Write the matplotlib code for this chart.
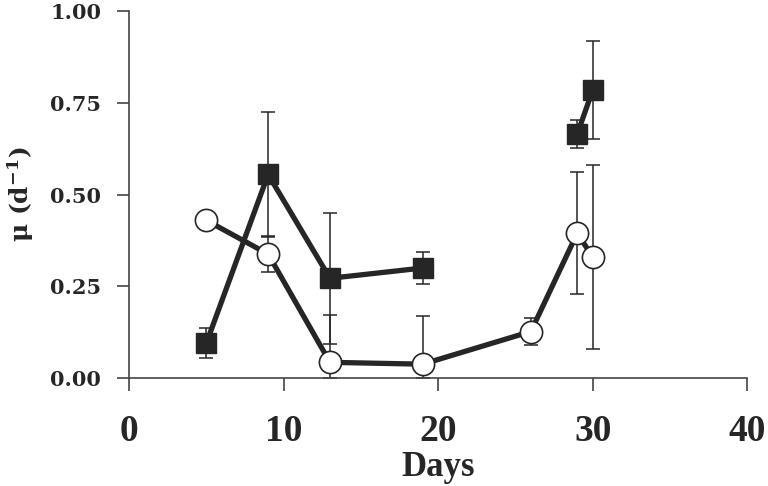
import numpy as np
import matplotlib.pyplot as plt

# squares (filled) - two separate runs
sq_days_a = [5, 9, 13, 19]
sq_mu_a = [0.095, 0.555, 0.272, 0.300]
sq_err_a = [0.041, 0.170, 0.178, 0.044]
sq_days_b = [29, 30]
sq_mu_b = [0.665, 0.785]
sq_err_b = [0.038, 0.133]

# circles (open)
ci_days = [5, 9, 13, 19, 26, 29, 30]
ci_mu = [0.430, 0.338, 0.043, 0.038, 0.127, 0.395, 0.330]
ci_err = [0.0, 0.048, 0.130, 0.130, 0.038, 0.166, 0.250]

dark = '#262626'
plt.rcParams['mathtext.fontset'] = 'dejavuserif'

fig = plt.figure(figsize=(7.68, 4.86), dpi=100)
ax = fig.add_axes([0.168, 0.222, 0.805, 0.755])

ci_lo = np.minimum(ci_err, ci_mu)
ax.errorbar(ci_days, ci_mu, yerr=[ci_lo, ci_err], fmt='none', ecolor=dark,
            elinewidth=1.1, capsize=5, capthick=1.1, zorder=2)
ax.errorbar(sq_days_a, sq_mu_a, yerr=sq_err_a, fmt='none', ecolor=dark,
            elinewidth=1.1, capsize=5, capthick=1.1, zorder=2)
ax.errorbar(sq_days_b, sq_mu_b, yerr=sq_err_b, fmt='none', ecolor=dark,
            elinewidth=1.1, capsize=5, capthick=1.1, zorder=2)

ax.plot(ci_days, ci_mu, color=dark, lw=3.8, marker='o', ms=16,
        mfc='white', mec=dark, mew=1.2, zorder=3)
ax.plot(sq_days_a, sq_mu_a, color=dark, lw=3.8, marker='s', ms=15,
        mfc=dark, mec=dark, zorder=4)
ax.plot(sq_days_b, sq_mu_b, color=dark, lw=3.8, marker='s', ms=15,
        mfc=dark, mec=dark, zorder=4)

ax.set_xlim(0, 40)
ax.set_ylim(0, 1.0)
ax.set_xticks([0, 10, 20, 30, 40])
ax.set_yticks([0, 0.25, 0.5, 0.75, 1.0])
ax.set_yticklabels(['0.00', '0.25', '0.50', '0.75', '1.00'])

for s in ['top', 'right']:
    ax.spines[s].set_visible(False)
for s in ['left', 'bottom']:
    ax.spines[s].set_color('#444444')
    ax.spines[s].set_linewidth(1.2)

ax.tick_params(axis='both', direction='out', length=9, width=1.2, color='#444444')
ax.tick_params(axis='x', pad=17)
ax.tick_params(axis='y', pad=11)

for lbl in ax.get_xticklabels():
    lbl.set_fontfamily('Liberation Serif')
    lbl.set_fontweight('bold')
    lbl.set_fontsize(27)
    lbl.set_color(dark)
for lbl in ax.get_yticklabels():
    lbl.set_fontfamily('DejaVu Serif')
    lbl.set_fontweight('bold')
    lbl.set_fontsize(15)
    lbl.set_color(dark)

fig.text(0.5 * (0.168 + 0.973), 1 - 467 / 486, 'Days', ha='center', va='center',
         fontfamily='Liberation Serif', fontweight='bold', fontsize=25, color=dark)
ax.set_ylabel('μ (d$^{\\mathbf{-1}}$)', fontfamily='DejaVu Serif', fontweight='bold',
              fontsize=18, color=dark, labelpad=10)

fig.savefig('out.png', dpi=100)
